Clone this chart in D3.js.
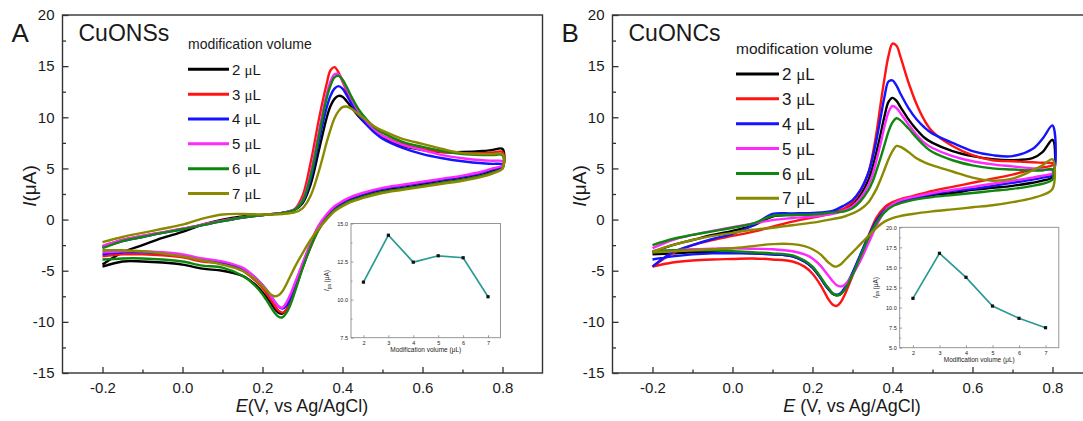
<!DOCTYPE html>
<html>
<head>
<meta charset="utf-8">
<script src="https://cdn.jsdelivr.net/npm/d3@7"></script>
<style>
  body { margin: 0; background: #fff; }
  svg { display: block; }
  text { font-family: "Liberation Sans", Arial, sans-serif; fill: #1a1a1a; }
</style>
</head>
<body>
<svg id="chart" width="1083" height="421"></svg>
<script>
// potentials of the forward (anodic) and reverse (cathodic) sweeps, V
const fwdE = [-0.2,-0.15,-0.1,-0.05,0,0.05,0.1,0.15,0.2,0.25,0.28,0.3,0.32,0.34,0.35,0.36,0.37,0.38,0.39,0.4,0.41,0.42,0.44,0.46,0.48,0.5,0.55,0.6,0.65,0.7,0.75,0.775,0.8]
const revE = [0.8,0.775,0.75,0.7,0.65,0.6,0.55,0.5,0.45,0.42,0.4,0.38,0.36,0.34,0.32,0.3,0.28,0.27,0.26,0.25,0.24,0.23,0.22,0.2,0.18,0.15,0.1,0.05,0,-0.05,-0.1,-0.15,-0.2]

const volumes = ["2", "3", "4", "5", "6", "7"]
const colors = ["#000000", "#ff1414", "#1414ff", "#ff28ff", "#0f870f", "#8a8a00"]

// CuONSs currents (uA), order 2..7 uL
const nsForward = [
  [-4.4,-3.2,-2.5,-1.8,-1.2,-0.5,0.0,0.3,0.45,0.65,0.95,1.6,3.4,6.6,8.3,9.9,11.1,11.8,12.1,12.0,11.6,11.1,10.1,9.3,8.6,8.0,7.2,6.8,6.6,6.6,6.7,6.8,6.9],
  [-2.6,-2.0,-1.6,-1.25,-0.9,-0.5,-0.1,0.2,0.45,0.65,1.0,2.3,5.5,9.6,11.5,13.2,14.6,14.9,14.4,13.5,12.6,11.8,10.4,9.5,8.8,8.2,7.4,6.9,6.6,6.5,6.5,6.55,6.6],
  [-2.7,-2.1,-1.7,-1.3,-0.95,-0.55,-0.15,0.2,0.45,0.65,0.95,1.7,3.9,7.5,9.3,10.9,12.1,12.8,13.05,12.8,12.2,11.5,10.2,9.3,8.5,7.9,7.0,6.4,6.0,5.7,5.5,5.45,5.4],
  [-2.6,-2.0,-1.6,-1.25,-0.9,-0.5,-0.1,0.2,0.45,0.65,1.0,1.9,4.5,8.4,10.4,12.2,13.5,14.2,14.2,13.6,12.8,12.0,10.6,9.6,8.8,8.2,7.3,6.8,6.3,6.0,5.8,5.75,5.7],
  [-2.8,-2.1,-1.7,-1.3,-0.95,-0.55,-0.15,0.2,0.45,0.65,0.95,1.8,4.2,8.0,10.0,11.8,13.1,13.9,14.05,13.7,13.0,12.2,10.8,9.8,9.0,8.5,7.6,7.1,6.7,6.4,6.3,6.3,6.3],
  [-2.2,-1.7,-1.3,-0.9,-0.5,0.1,0.5,0.55,0.5,0.55,0.7,1.1,2.3,4.6,6.0,7.5,8.8,9.9,10.6,11.0,11.05,10.9,10.3,9.7,9.1,8.7,7.9,7.4,6.9,6.5,6.4,6.4,6.4]
]
const nsReverse = [
  [5.1,4.7,4.4,4.0,3.7,3.4,3.1,2.8,2.3,1.9,1.5,1.0,0.2,-0.9,-2.6,-4.7,-6.9,-8.0,-8.8,-9.2,-9.1,-8.7,-8.1,-7.1,-6.3,-5.5,-5.0,-4.8,-4.4,-4.2,-4.1,-4.1,-4.6],
  [5.0,4.6,4.3,3.9,3.6,3.3,3.0,2.7,2.2,1.8,1.4,0.9,0.1,-1.0,-2.7,-4.7,-7.0,-8.0,-8.8,-9.1,-8.9,-8.4,-7.8,-6.7,-5.9,-5.0,-4.3,-4.1,-3.7,-3.5,-3.4,-3.4,-3.6],
  [5.2,4.9,4.6,4.2,3.9,3.6,3.3,3.0,2.5,2.1,1.7,1.2,0.4,-0.7,-2.4,-4.4,-6.5,-7.6,-8.4,-8.7,-8.5,-8.0,-7.4,-6.4,-5.6,-4.8,-4.2,-3.9,-3.5,-3.3,-3.2,-3.2,-3.4],
  [5.3,5.0,4.7,4.3,4.0,3.7,3.4,3.1,2.6,2.2,1.8,1.3,0.5,-0.6,-2.3,-4.3,-6.3,-7.3,-8.1,-8.6,-8.5,-8.0,-7.4,-6.4,-5.6,-4.7,-4.1,-3.8,-3.4,-3.2,-3.1,-3.1,-3.2],
  [5.0,4.6,4.3,3.9,3.6,3.3,3.0,2.7,2.2,1.8,1.4,0.9,0.1,-1.0,-2.7,-4.8,-7.2,-8.3,-9.1,-9.55,-9.5,-9.1,-8.5,-7.3,-6.4,-5.5,-4.7,-4.5,-4.1,-3.9,-3.8,-3.8,-3.9],
  [5.0,4.5,4.2,3.8,3.5,3.2,2.9,2.6,2.1,1.7,1.3,0.8,0.0,-0.9,-2.0,-3.3,-4.7,-5.5,-6.3,-7.0,-7.4,-7.5,-7.3,-6.5,-5.8,-5.0,-4.4,-4.0,-3.6,-3.3,-3.1,-3.0,-3.0]
]

// CuONCs currents (uA), order 2..7 uL
const ncForward = [
  [-3.2,-2.5,-2.0,-1.5,-1.1,-0.6,0.3,0.45,0.55,0.7,1.0,1.5,2.4,3.9,5.1,6.6,8.3,10.1,11.5,11.9,11.6,11.0,9.8,8.8,8.0,7.5,6.7,6.2,5.9,5.8,6.0,6.6,7.8],
  [-4.6,-3.3,-2.5,-2.0,-1.6,-1.2,-0.7,-0.2,0.2,0.6,1.1,1.7,2.8,4.6,6.3,8.5,11.2,13.8,16.0,17.2,17.0,15.9,13.4,11.3,9.7,8.6,7.2,6.3,5.8,5.7,5.6,5.55,5.5],
  [-4.6,-3.2,-2.5,-1.9,-1.4,-0.6,0.55,0.6,0.65,0.85,1.4,1.9,2.9,4.6,6.0,7.8,9.9,12.0,13.5,13.6,13.1,12.3,10.9,9.8,9.0,8.4,7.5,6.7,6.3,6.2,6.9,7.9,9.2],
  [-2.8,-2.0,-1.5,-1.1,-0.75,-0.4,-0.05,0.15,0.3,0.55,0.9,1.3,2.1,3.4,4.4,5.8,7.4,9.1,10.5,11.1,10.9,10.4,9.3,8.3,7.5,7.0,6.2,5.7,5.4,5.2,5.0,4.9,4.8],
  [-2.5,-1.9,-1.5,-1.15,-0.8,-0.4,0.35,0.45,0.5,0.7,0.8,1.1,1.8,2.9,3.7,4.8,6.0,7.3,8.6,9.5,9.9,9.7,8.9,8.0,7.2,6.6,5.8,5.3,5.0,4.9,4.8,4.8,4.9],
  [-3.1,-2.5,-2.0,-1.6,-1.3,-1.0,-0.8,-0.55,-0.3,0.05,0.3,0.6,1.0,1.7,2.3,3.0,3.9,4.9,5.9,6.7,7.2,7.1,6.6,6.0,5.6,5.3,4.7,4.1,3.8,4.0,4.8,5.3,5.9]
]
const ncReverse = [
  [4.2,3.8,3.6,3.3,3.1,2.9,2.6,2.4,2.0,1.7,1.4,0.8,-0.2,-1.7,-3.5,-5.3,-6.8,-7.3,-7.4,-7.25,-6.8,-6.3,-5.7,-4.7,-4.1,-3.6,-3.4,-3.3,-3.2,-3.2,-3.2,-3.3,-3.4],
  [5.3,5.1,4.9,4.4,4.0,3.6,3.2,2.8,2.3,2.0,1.7,1.2,0.2,-1.6,-3.5,-5.5,-7.4,-8.1,-8.45,-8.3,-7.8,-7.1,-6.4,-5.3,-4.6,-4.1,-3.9,-3.8,-3.85,-3.9,-4.0,-4.2,-4.6],
  [4.4,4.1,3.9,3.6,3.3,3.0,2.8,2.5,2.1,1.8,1.5,0.9,-0.1,-1.6,-3.4,-5.2,-6.7,-7.2,-7.35,-7.2,-6.8,-6.3,-5.7,-4.7,-4.1,-3.6,-3.4,-3.3,-3.3,-3.3,-3.4,-3.6,-3.9],
  [4.5,4.3,4.1,3.8,3.5,3.2,2.9,2.6,2.2,1.9,1.5,0.8,-0.6,-2.3,-4.0,-5.4,-6.4,-6.55,-6.4,-6.0,-5.5,-5.0,-4.5,-3.8,-3.4,-3.1,-2.9,-2.85,-2.8,-2.85,-2.9,-3.0,-3.1],
  [3.9,3.5,3.3,3.0,2.8,2.6,2.4,2.2,1.9,1.6,1.3,0.7,-0.3,-1.8,-3.6,-5.4,-6.9,-7.3,-7.4,-7.2,-6.7,-6.2,-5.6,-4.6,-4.0,-3.5,-3.3,-3.2,-3.1,-3.0,-3.0,-3.0,-3.1],
  [3.0,2.4,2.1,1.7,1.4,1.2,1.0,0.8,0.55,0.35,0.15,-0.2,-0.8,-1.6,-2.4,-3.2,-4.0,-4.4,-4.6,-4.5,-4.2,-3.8,-3.4,-2.9,-2.6,-2.4,-2.4,-2.6,-2.8,-2.9,-3.0,-3.1,-3.2]
]

// inset data: anodic peak current vs modification volume
const insetVolumes = [2, 3, 4, 5, 6, 7]
const nsPeak = [11.15, 14.23, 12.46, 12.88, 12.75, 10.19]
const ncPeak = [11.15, 16.76, 13.77, 10.19, 8.66, 7.49]

const xTicks = [-0.2, 0.0, 0.2, 0.4, 0.6, 0.8]
const xMinor = [-0.1, 0.1, 0.3, 0.5, 0.7]
const yTicks = [-15, -10, -5, 0, 5, 10, 15, 20]
const yMinor = [-12.5, -7.5, -2.5, 2.5, 7.5, 12.5, 17.5]

const svg = d3.select("#chart")
const hyphen = f => d => f(d).replace("\u2212", "-")

function styleAxis(sel, size, color) {
    sel.select(".domain").remove()
    sel.selectAll(".tick line").attr("stroke", color).attr("stroke-width", size > 8 ? 1.3 : 0.7)
    sel.selectAll(".tick text").attr("font-size", size).attr("fill", size > 8 ? "#1a1a1a" : "#555")
        .attr("font-family", "Liberation Sans, Arial, sans-serif")
}

function drawPanel(p) {
    const x = d3.scaleLinear().domain([-0.3, 0.9]).range([p.left, p.left + 480])
    const y = d3.scaleLinear().domain([-15, 20]).range([373, 15])
    const g = svg.append("g")

    // axes, ticks pointing into the plot
    g.append("g").attr("transform", "translate(0,373)")
        .call(d3.axisBottom(x).tickValues(xTicks).tickFormat(hyphen(d3.format(".1f")))
            .tickSizeInner(-6).tickSizeOuter(0).tickPadding(9))
        .call(styleAxis, 15, "#333")
    g.append("g").attr("transform", "translate(0,373)")
        .call(d3.axisBottom(x).tickValues(xMinor).tickFormat("").tickSizeInner(-3.5).tickSizeOuter(0))
        .call(styleAxis, 15, "#333")
    g.append("g").attr("transform", "translate(" + p.left + ",0)")
        .call(d3.axisLeft(y).tickValues(yTicks).tickFormat(hyphen(d3.format("d")))
            .tickSizeInner(-6).tickSizeOuter(0).tickPadding(8))
        .call(styleAxis, 15, "#333")
    g.append("g").attr("transform", "translate(" + p.left + ",0)")
        .call(d3.axisLeft(y).tickValues(yMinor).tickFormat("").tickSizeInner(-3.5).tickSizeOuter(0))
        .call(styleAxis, 15, "#333")

    g.append("rect").attr("x", p.left).attr("y", 15).attr("width", 480).attr("height", 358)
        .attr("fill", "none").attr("stroke", "#333").attr("stroke-width", 1.4)

    // CV loops
    const line = d3.line().x(d => x(d[0])).y(d => y(d[1]))
        .curve(d3.curveCatmullRom.alpha(0.5))
    volumes.forEach((v, i) => {
        const pts = fwdE.map((e, k) => [e, p.fwd[i][k]])
            .concat(revE.map((e, k) => [e, p.rev[i][k]]))
        g.append("path").datum(pts).attr("d", line)
            .attr("fill", "none").attr("stroke", colors[i]).attr("stroke-width", 2.4)
            .attr("stroke-linejoin", "round")
    })

    // labels
    g.append("text").attr("x", p.left - 51).attr("y", 42).attr("font-size", 26).text(p.letter)
    g.append("text").attr("x", p.left + 16).attr("y", 41).attr("font-size", 23).text(p.title)
    g.append("text").attr("x", p.lgX).attr("y", p.lgY - 20).attr("font-size", p.lgHead)
        .text("modification volume")
    volumes.forEach((v, i) => {
        const yy = p.lgY + i * 24.85
        g.append("line").attr("x1", p.lgX).attr("x2", p.lgX + p.lgLen)
            .attr("y1", yy).attr("y2", yy).attr("stroke", colors[i]).attr("stroke-width", 3)
        const t = g.append("text").attr("x", p.lgX + p.lgLen + 3).attr("y", yy + p.lgFont * 0.36)
            .attr("font-size", p.lgFont)
        t.append("tspan").text(v + " ")
        t.append("tspan").attr("font-family", "Liberation Serif, serif").text("μ")
        t.append("tspan").text("L")
    })

    const yl = g.append("text").attr("transform", "translate(" + (p.left - 27) + ",186) rotate(-90)")
        .attr("text-anchor", "middle").attr("font-size", 19)
    yl.append("tspan").attr("font-style", "italic").text("I")
    yl.append("tspan").text("(μA)")

    const xl = g.append("text").attr("x", p.xTitleX).attr("y", 412)
        .attr("text-anchor", "middle").attr("font-size", 18)
    xl.append("tspan").attr("font-style", "italic").text("E")
    xl.append("tspan").text(p.xTitleRest)

    drawInset(p.inset)
}

function drawInset(s) {
    const x = d3.scaleLinear().domain([1.5, 7.5]).range([s.left, s.right])
    const y = d3.scaleLinear().domain(s.yDomain).range([s.bottom, s.top])
    const g = svg.append("g")
    g.append("rect").attr("x", s.left).attr("y", s.top)
        .attr("width", s.right - s.left).attr("height", s.bottom - s.top)
        .attr("fill", "#fff").attr("stroke", "#8a8a8a").attr("stroke-width", 0.9)

    g.append("g").attr("transform", "translate(0," + s.bottom + ")")
        .call(d3.axisBottom(x).tickValues(insetVolumes).tickFormat(d3.format("d"))
            .tickSizeInner(-2.5).tickSizeOuter(0).tickPadding(3))
        .call(styleAxis, 5.5, "#777")
    g.append("g").attr("transform", "translate(" + s.left + ",0)")
        .call(d3.axisLeft(y).tickValues(s.yTicks).tickFormat(d3.format(".1f"))
            .tickSizeInner(-2.5).tickSizeOuter(0).tickPadding(3))
        .call(styleAxis, 5.5, "#777")
    g.append("g").attr("transform", "translate(" + s.left + ",0)")
        .call(d3.axisLeft(y).tickValues(s.yMinor).tickFormat("").tickSizeInner(-1.5).tickSizeOuter(0))
        .call(styleAxis, 5.5, "#777")

    const line = d3.line().x((d, i) => x(insetVolumes[i])).y(d => y(d))
    g.append("path").datum(s.values).attr("d", line)
        .attr("fill", "none").attr("stroke", "#2a9a94").attr("stroke-width", 1.7)
    g.selectAll(".pt").data(s.values).enter().append("rect")
        .attr("x", (d, i) => x(insetVolumes[i]) - 1.6).attr("y", d => y(d) - 1.6)
        .attr("width", 3.2).attr("height", 3.2).attr("fill", "#111")

    g.append("text").attr("x", (s.left + s.right) / 2).attr("y", s.bottom + 14)
        .attr("text-anchor", "middle").attr("font-size", 6.5).attr("fill", "#555")
        .text("Modification volume (μL)")
    const t = g.append("text")
        .attr("transform", "translate(" + (s.left - 22) + "," + ((s.top + s.bottom) / 2) + ") rotate(-90)")
        .attr("text-anchor", "middle").attr("font-size", 6.5).attr("fill", "#555")
    t.append("tspan").attr("font-style", "italic").text("I")
    t.append("tspan").attr("font-size", 4.5).attr("dy", 1.5).text("pa")
    t.append("tspan").attr("dy", -1.5).text(" (μA)")
}

drawPanel({
    left: 62.5, letter: "A", title: "CuONSs",
    fwd: nsForward, rev: nsReverse,
    lgX: 188, lgY: 69.3, lgLen: 41, lgFont: 15, lgHead: 14,
    xTitleX: 302, xTitleRest: "(V, vs Ag/AgCl)",
    inset: {
        left: 351, right: 500.5, top: 223.5, bottom: 337.7,
        yDomain: [7.5, 15], yTicks: [7.5, 10, 12.5, 15], yMinor: [8.75, 11.25, 13.75],
        values: nsPeak
    }
})

drawPanel({
    left: 612.5, letter: "B", title: "CuONCs",
    fwd: ncForward, rev: ncReverse,
    lgX: 736, lgY: 74, lgLen: 43, lgFont: 17, lgHead: 15.5,
    xTitleX: 852, xTitleRest: " (V, vs Ag/AgCl)",
    inset: {
        left: 899.7, right: 1058.8, top: 227.3, bottom: 347.7,
        yDomain: [5, 20], yTicks: [5, 7.5, 10, 12.5, 15, 17.5, 20], yMinor: [6.25, 8.75, 11.25, 13.75, 16.25, 18.75],
        values: ncPeak
    }
})
</script>
</body>
</html>
